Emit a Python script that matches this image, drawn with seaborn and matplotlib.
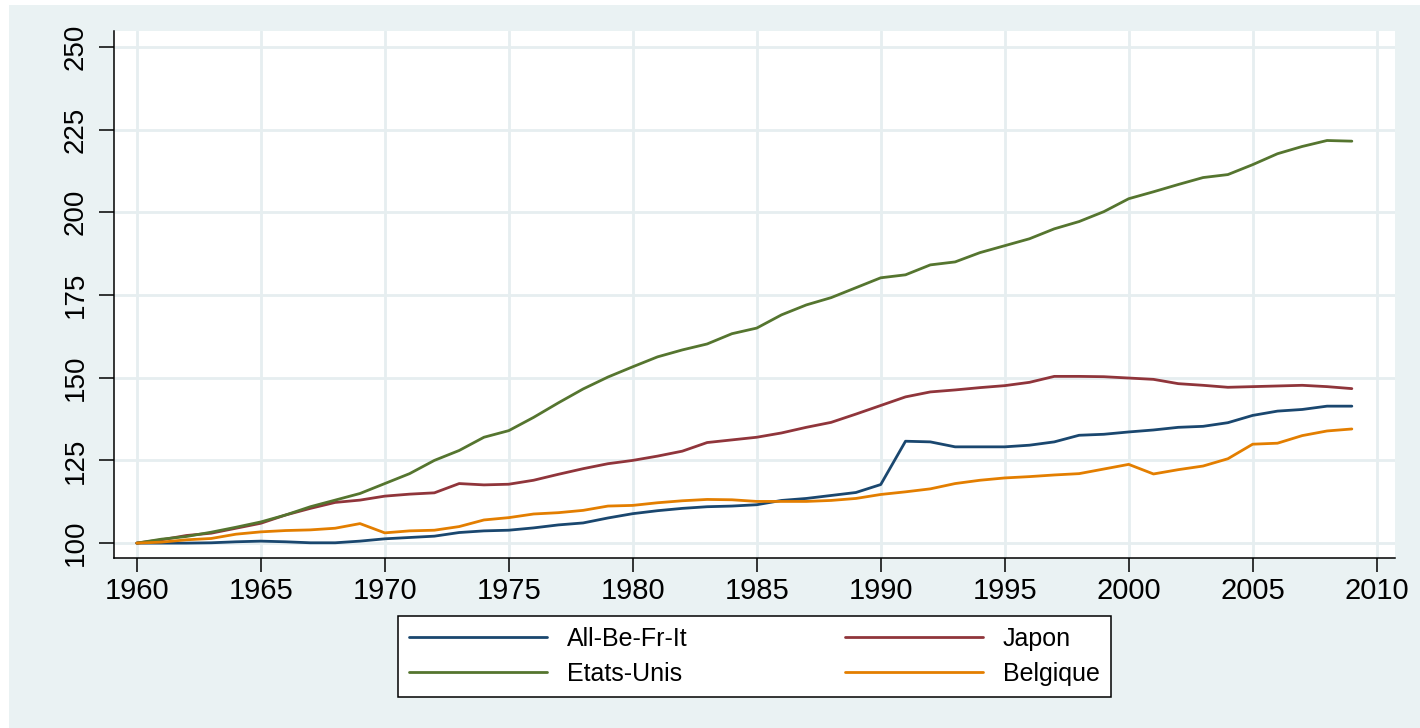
import numpy as np
import pandas as pd
import seaborn as sns
import matplotlib.pyplot as plt
from matplotlib.patches import Rectangle

#====================== Data (indices, base 1960 = 100) ======================
years = list(range(1960, 2010))

all_be_fr_it = [100.0, 100.0, 100.0, 100.1, 100.4, 100.6, 100.4, 100.1, 100.1, 100.6,
                101.3, 101.7, 102.1, 103.2, 103.7, 103.9, 104.6, 105.5, 106.1, 107.6,
                108.9, 109.8, 110.5, 111.0, 111.2, 111.6, 112.9, 113.5, 114.4, 115.3,
                117.7, 130.8, 130.6, 129.1, 129.1, 129.1, 129.6, 130.6, 132.6, 132.9,
                133.6, 134.2, 135.0, 135.3, 136.4, 138.6, 139.9, 140.4, 141.4, 141.4]

japon = [100.0, 101.0, 102.3, 103.0, 104.5, 106.0, 108.5, 110.5, 112.3, 113.0,
         114.2, 114.8, 115.2, 118.0, 117.6, 117.8, 119.0, 120.8, 122.5, 124.0,
         125.0, 126.3, 127.8, 130.4, 131.2, 132.0, 133.3, 135.0, 136.5, 139.0,
         141.6, 144.2, 145.7, 146.3, 147.0, 147.6, 148.6, 150.4, 150.4, 150.3,
         149.9, 149.5, 148.2, 147.7, 147.1, 147.3, 147.5, 147.7, 147.3, 146.7]

etats_unis = [100.0, 101.2, 102.0, 103.3, 104.8, 106.4, 108.5, 111.0, 113.0, 115.0,
              118.0, 121.0, 125.0, 128.0, 132.0, 134.0, 138.0, 142.4, 146.6, 150.2,
              153.3, 156.3, 158.4, 160.2, 163.3, 165.0, 169.0, 172.0, 174.2, 177.2,
              180.2, 181.1, 184.1, 185.0, 187.8, 189.9, 192.0, 195.0, 197.2, 200.2,
              204.1, 206.2, 208.4, 210.5, 211.4, 214.4, 217.7, 219.9, 221.7, 221.5]

belgique = [100.0, 100.3, 101.0, 101.4, 102.7, 103.4, 103.8, 104.0, 104.5, 105.9,
            103.1, 103.7, 103.9, 105.0, 107.0, 107.7, 108.8, 109.2, 109.9, 111.2,
            111.4, 112.2, 112.8, 113.2, 113.1, 112.6, 112.6, 112.6, 112.9, 113.5,
            114.7, 115.5, 116.4, 118.0, 119.0, 119.7, 120.1, 120.6, 121.0, 122.4,
            123.8, 120.9, 122.2, 123.3, 125.5, 129.9, 130.2, 132.5, 133.9, 134.5]

series_names = ['All-Be-Fr-It', 'Japon', 'Etats-Unis', 'Belgique']
series_colors = ['#1a476f', '#90353b', '#55752f', '#e37e00']
y_ticks = [100, 125, 150, 175, 200, 225, 250]
x_ticks = [1960, 1965, 1970, 1975, 1980, 1985, 1990, 1995, 2000, 2005, 2010]

df = pd.DataFrame({'year': years, 'All-Be-Fr-It': all_be_fr_it, 'Japon': japon,
                   'Etats-Unis': etats_unis, 'Belgique': belgique})
df = df.melt(id_vars='year', var_name='serie', value_name='indice')

#====================== Plot ======================
sns.set_style("white")
plt.rcParams['font.family'] = ['Liberation Sans', 'DejaVu Sans']
plt.rcParams['text.color'] = 'black'

bg = '#eaf2f3'
fig = plt.figure(figsize=(14.2, 7.28), dpi=100, facecolor='white')
fig.add_artist(Rectangle((9/1420, 0), 1, 723/728, transform=fig.transFigure,
                         facecolor=bg, edgecolor='none', zorder=-10))
ax = fig.add_axes([114/1420, 1-558/728, (1395-114)/1420, (558-31)/728])
ax.set_facecolor('white')

sns.lineplot(data=df, x='year', y='indice', hue='serie', hue_order=series_names,
             palette=series_colors, linewidth=2.0, ax=ax)

ax.set_xlim(1959.08, 2010.74)
ax.set_ylim(95.5, 254.8)
ax.set_xticks(x_ticks)
ax.set_yticks(y_ticks)
ax.set_xlabel('')
ax.set_ylabel('')

ax.set_axisbelow(True)
ax.grid(True, color='#e6eef0', linewidth=2)
for s in ['top', 'right']:
    ax.spines[s].set_visible(False)
for s in ['left', 'bottom']:
    ax.spines[s].set_color('black')
    ax.spines[s].set_linewidth(1.1)

ax.tick_params(axis='x', which='major', direction='out', length=10, width=1.1,
               color='black', labelcolor='black', labelsize=21, pad=4, bottom=True)
ax.tick_params(axis='y', which='major', direction='out', length=11, width=1.1,
               color='black', labelcolor='black', labelsize=20, pad=7, left=True,
               labelrotation=90)
for lab in ax.get_yticklabels():
    lab.set_va('center')

# legend: two rows, boxed, below the plot
handles, labels = ax.get_legend_handles_labels()
ax.get_legend().remove()
order = [0, 2, 1, 3]
leg = fig.legend([handles[i] for i in order], [labels[i] for i in order],
                 ncol=2, loc='center', mode='expand', borderaxespad=0,
                 bbox_to_anchor=(398/1420, 1-697/728, 713/1420, 81/728),
                 fontsize=18, frameon=True, fancybox=False, edgecolor='black',
                 facecolor='white', framealpha=1, handlelength=5.5,
                 handletextpad=0.8, labelspacing=0.45, borderpad=0.45)
leg.get_frame().set_linewidth(1.1)
for t in leg.get_texts():
    t.set_color('black')

plt.savefig('out.png', dpi=100, facecolor=fig.get_facecolor())
